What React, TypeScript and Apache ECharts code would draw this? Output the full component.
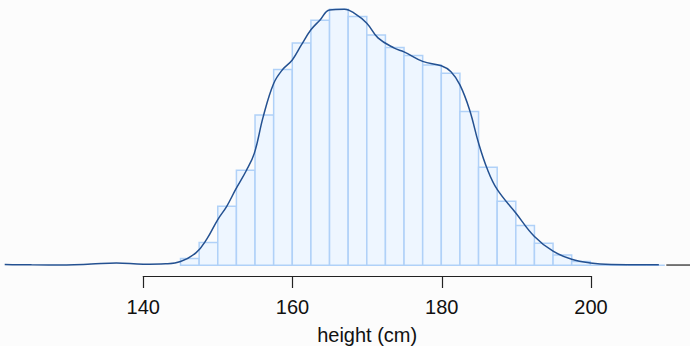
import React, { useEffect, useRef } from "react";
import * as echarts from "echarts";

// Histogram bins (start of each 2.5 cm bin) and density values
const BIN_WIDTH = 2.5;
const binStart = [
  145, 147.5, 150, 152.5, 155, 157.5, 160, 162.5, 165, 167.5, 170, 172.5, 175,
  177.5, 180, 182.5, 185, 187.5, 190, 192.5, 195, 197.5, 200, 202.5, 205, 207.5,
];
const binDensity = [
  0.0009, 0.0031, 0.008, 0.0129, 0.0204, 0.0266, 0.0302, 0.0333, 0.0348, 0.0338,
  0.0313, 0.0296, 0.0285, 0.0272, 0.0261, 0.0209, 0.0133, 0.0087, 0.0054, 0.003,
  0.0014, 0.0005, 0, 0, 0, 0,
];

// Kernel density estimate curve
const densX = [
  121.4, 125, 129.7, 133, 136.4, 140, 143, 145, 147.1, 148.5, 150, 151.2, 152.4,
  153.8, 154.9, 156.1, 157.5, 158.7, 160, 161.2, 162.5, 163.7, 165, 167, 168.4,
  170, 171.5, 173.7, 175, 177.5, 180, 181.3, 182.5, 183.8, 185, 186.2, 187.5,
  190, 192.5, 195, 197.5, 200, 202.8, 206, 209.2,
];
const densY = [
  0.0001, 0.00005, 0.00004, 0.00015, 0.0003, 0.00014, 0.0002, 0.0005, 0.0017,
  0.0035, 0.0062, 0.008, 0.0103, 0.0128, 0.0152, 0.0202, 0.0247, 0.0266, 0.0279,
  0.0299, 0.032, 0.0333, 0.0347, 0.0348, 0.0342, 0.0329, 0.0309, 0.0295, 0.029,
  0.0277, 0.0271, 0.0263, 0.0245, 0.0211, 0.0166, 0.013, 0.0103, 0.0071, 0.0039,
  0.0019, 0.0008, 0.0003, 0.0001, 0.00007, 0.00005,
];

// Short black baseline segment at the right end
const tailX = [210.2, 213.4];
const tailY = [0, 0];

const axisTicks = [140, 160, 180, 200];

export default function App() {
  const ref = useRef<HTMLDivElement>(null);

  useEffect(() => {
    document.body.style.margin = "0";
    document.body.style.background = "#fcfcfc";
    if (!ref.current) return;
    const chart = echarts.init(ref.current, undefined, { renderer: "svg" });

    const histData = binStart.map((s, i) => [s, s + BIN_WIDTH, binDensity[i]]);
    const densData = densX.map((x, i) => [x, densY[i]]);
    const tailData = tailX.map((x, i) => [x, tailY[i]]);

    chart.setOption({
      animation: false,
      backgroundColor: "#fcfcfc",
      textStyle: { fontFamily: "'Liberation Sans', Arial, sans-serif" },
      grid: [
        { left: 0, right: 0, top: 7.7, bottom: 80.8 },
        { left: 143.3, right: 99, top: 250, bottom: 70 },
      ],
      xAxis: [
        {
          type: "value",
          gridIndex: 0,
          min: 120.77,
          max: 213.38,
          show: false,
        },
        {
          type: "value",
          gridIndex: 1,
          min: axisTicks[0],
          max: axisTicks[axisTicks.length - 1],
          interval: 20,
          position: "bottom",
          axisLine: { show: true, lineStyle: { color: "#222", width: 1.2 } },
          axisTick: {
            show: true,
            length: 12,
            lineStyle: { color: "#222", width: 1.2 },
          },
          splitLine: { show: false },
          axisLabel: {
            fontSize: 20,
            color: "#111",
            margin: 21,
            fontFamily: "'Liberation Sans', Arial, sans-serif",
          },
          name: "height (cm)",
          nameLocation: "middle",
          nameGap: 49,
          nameTextStyle: {
            fontSize: 20,
            color: "#111",
            fontFamily: "'Liberation Sans', Arial, sans-serif",
          },
        },
      ],
      yAxis: [
        { type: "value", gridIndex: 0, min: 0, max: 0.035, show: false },
        { type: "value", gridIndex: 1, show: false },
      ],
      series: [
        {
          type: "custom",
          xAxisIndex: 0,
          yAxisIndex: 0,
          data: histData,
          encode: { x: [0, 1], y: 2 },
          renderItem: (params: any, api: any) => {
            const p0 = api.coord([api.value(0), api.value(2)]);
            const p1 = api.coord([api.value(1), 0]);
            return {
              type: "rect",
              shape: {
                x: p0[0],
                y: p0[1],
                width: p1[0] - p0[0],
                height: p1[1] - p0[1],
              },
              style: { fill: "#eef6ff", stroke: "#b0d1f8", lineWidth: 1.5 },
            };
          },
          silent: true,
        },
        {
          type: "line",
          xAxisIndex: 0,
          yAxisIndex: 0,
          data: densData,
          smooth: 0.4,
          showSymbol: false,
          lineStyle: { color: "#245191", width: 1.5 },
          silent: true,
        },
        {
          type: "line",
          xAxisIndex: 0,
          yAxisIndex: 0,
          data: tailData,
          showSymbol: false,
          lineStyle: { color: "#000", width: 1.2 },
          silent: true,
        },
      ],
    });

    return () => chart.dispose();
  }, []);

  return <div ref={ref} style={{ width: 690, height: 346 }} />;
}
